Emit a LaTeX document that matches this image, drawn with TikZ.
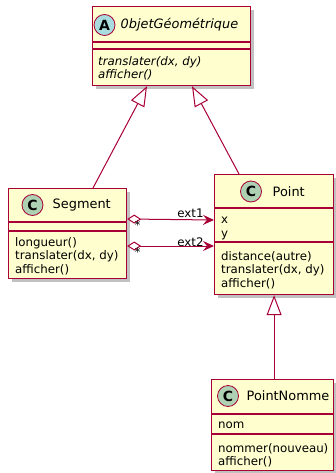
\documentclass[tikz,border=0pt]{standalone}
\usepackage{fontspec}
\setmainfont{DejaVu Sans}
\usetikzlibrary{arrows.meta,shadows}
\definecolor{umlfill}{HTML}{FEFECE}
\definecolor{umlline}{HTML}{A80036}
\definecolor{classball}{HTML}{ADD1B2}
\definecolor{abstractball}{HTML}{A9DCDF}

\begin{document}
\begin{tikzpicture}[x=1pt,y=-1pt,
    classbox/.style={draw=umlline, fill=umlfill, line width=1.2pt, anchor=north west, inner sep=0pt,
        drop shadow={shadow xshift=3pt, shadow yshift=-3pt, opacity=0.35, fill=black!70}},
    ball/.style={circle, draw=umlline, line width=0.8pt, minimum size=21pt, inner sep=0pt,
        font=\fontsize{14}{14}\selectfont\bfseries},
    title/.style={anchor=west, inner sep=0pt, font=\fontsize{12.9}{15}\selectfont},
    members/.style={anchor=north west, inner sep=0pt, align=left, font=\fontsize{11.8}{13.5}\selectfont},
    sep/.style={draw=umlline, line width=1.2pt},
    inherit/.style={draw=umlline, line width=1pt, -{Triangle[length=20pt, width=15pt, fill=white]}},
    aggreg/.style={draw=umlline, line width=1pt,
        {Diamond[length=14pt, width=9pt, fill=white]}-{Stealth[length=11pt, width=10pt, inset=4pt]}},
    role/.style={inner sep=0pt, font=\fontsize{11.8}{13.5}\selectfont}
]
\useasboundingbox (0,0) rectangle (335,473);

% classes
\node[classbox, minimum width=158pt, minimum height=79pt] (objet) at (92,6) {};
\draw[sep] ([yshift=-36pt]objet.north west) -- ([yshift=-36pt]objet.north east);
\draw[sep] ([yshift=-43pt]objet.north west) -- ([yshift=-43pt]objet.north east);
\node[ball, fill=abstractball] (objet ball) at (104.5,25) {A};
\node[title] (objet name) at (120.5,25) {\itshape 0bjetGéométrique};
\node[members] (objet ops) at (98,56) {\itshape translater(dx, dy)\\\itshape afficher()};

\node[classbox, minimum width=118pt, minimum height=90pt] (seg) at (8,188) {};
\draw[sep] ([yshift=-34pt]seg.north west) -- ([yshift=-34pt]seg.north east);
\draw[sep] ([yshift=-43pt]seg.north west) -- ([yshift=-43pt]seg.north east);
\node[ball, fill=classball] (seg ball) at (32.5,205) {C};
\node[title] (seg name) at (52.5,205) {Segment};
\node[members] (seg ops) at (15,237) {longueur()\\translater(dx, dy)\\afficher()};

\node[classbox, minimum width=119pt, minimum height=120pt] (point) at (214,174) {};
\draw[sep] ([yshift=-34pt]point.north west) -- ([yshift=-34pt]point.north east);
\draw[sep] ([yshift=-68pt]point.north west) -- ([yshift=-68pt]point.north east);
\node[ball, fill=classball] (point ball) at (251,191.5) {C};
\node[title] (point name) at (272.5,191.5) {Point};
\node[members] (point attrs) at (221,217) {x\\y};
\node[members] (point ops) at (221,251) {distance(autre)\\translater(dx, dy)\\afficher()};

\node[classbox, minimum width=122pt, minimum height=91pt] (pnom) at (211,379) {};
\draw[sep] ([yshift=-35pt]pnom.north west) -- ([yshift=-35pt]pnom.north east);
\draw[sep] ([yshift=-55pt]pnom.north west) -- ([yshift=-55pt]pnom.north east);
\node[ball, fill=classball] (pnom ball) at (228,396) {C};
\node[title] (pnom name) at (246.5,396) {PointNomme};
\node[members] (pnom attrs) at (218,422) {nom};
\node[members] (pnom ops) at (218,443) {nommer(nouveau)\\afficher()};

% inheritance
\coordinate (objet foot1) at ([xshift=55pt]objet.south west);
\coordinate (objet foot2) at ([xshift=100pt]objet.south west);
\coordinate (seg top) at ([xshift=85pt]seg.north west);
\coordinate (point top) at ([xshift=25pt]point.north west);
\draw[inherit] (seg top) -- (objet foot1);
\draw[inherit] (point top) -- (objet foot2);
\draw[inherit] (pnom.north -| point.south) -- (point.south);

% aggregations
\coordinate (seg end1) at ([yshift=-31pt]seg.north east);
\coordinate (seg end2) at ([yshift=-58pt]seg.north east);
\coordinate (point end1) at ([yshift=-46pt]point.north west);
\coordinate (point end2) at ([yshift=-72pt]point.north west);
\draw[aggreg] (seg end1) -- (point end1)
    node[role, at start, anchor=north west, xshift=7pt, yshift=-1pt] (mult1) {*}
    node[role, at end, anchor=south east, xshift=-10pt, yshift=2pt] (ext1) {ext1};
\draw[aggreg] (seg end2) -- (point end2)
    node[role, at start, anchor=north west, xshift=7pt, yshift=-1pt] (mult2) {*}
    node[role, at end, anchor=south east, xshift=-10pt, yshift=-1pt] (ext2) {ext2};
\end{tikzpicture}
\end{document}
